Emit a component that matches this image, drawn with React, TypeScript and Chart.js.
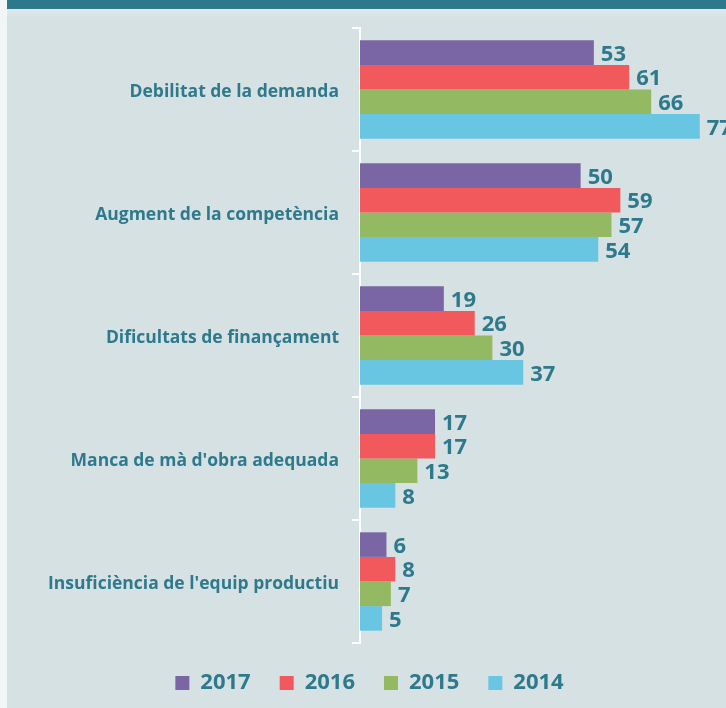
import React, { useEffect, useRef } from "react";
import { Chart, registerables } from "chart.js";

Chart.register(...registerables);

const categories = [
  "Debilitat de la demanda",
  "Augment de la competència",
  "Dificultats de finançament",
  "Manca de mà d'obra adequada",
  "Insuficiència de l'equip productiu",
];
const seriesLabels = ["2017", "2016", "2015", "2014"];
const values2017 = [53, 50, 19, 17, 6];
const values2016 = [61, 59, 26, 17, 8];
const values2015 = [66, 57, 30, 13, 7];
const values2014 = [77, 54, 37, 8, 5];
const seriesColors = ["#7b66a5", "#f1595c", "#93ba62", "#68c6e3"];

const TEAL = "#2e7a8c";
const FONT = "'Open Sans', sans-serif";

const valueLabels = {
  id: "valueLabels",
  afterDatasetsDraw(chart: any) {
    const ctx = chart.ctx;
    ctx.save();
    ctx.fillStyle = TEAL;
    ctx.font = `bold 22px ${FONT}`;
    ctx.textAlign = "left";
    ctx.textBaseline = "middle";
    chart.data.datasets.forEach((ds: any, di: number) => {
      const meta = chart.getDatasetMeta(di);
      meta.data.forEach((el: any, i: number) => {
        ctx.fillText(String(ds.data[i]), el.x + 7, el.y + 2);
      });
    });
    ctx.restore();
  },
};

export default function App() {
  const ref = useRef<HTMLCanvasElement>(null);
  useEffect(() => {
    const allValues = [values2017, values2016, values2015, values2014];
    const chart = new Chart(ref.current!, {
      type: "bar",
      data: {
        labels: categories,
        datasets: seriesLabels.map((l, i) => ({
          label: l,
          data: allValues[i],
          backgroundColor: seriesColors[i],
          borderWidth: 0,
          categoryPercentage: 0.8,
          barPercentage: 1.0,
        })),
      },
      options: {
        indexAxis: "y",
        responsive: false,
        animation: false,
        devicePixelRatio: 1,
        layout: { padding: { top: 28, right: 13, left: 26, bottom: 4 } },
        plugins: {
          tooltip: { enabled: false },
          legend: {
            position: "bottom",
            labels: {
              boxWidth: 14,
              boxHeight: 14,
              padding: 29,
              color: TEAL,
              font: { family: FONT, size: 22, weight: "bold" },
            },
          },
        },
        scales: {
          x: { display: false, min: 0, max: 80 },
          y: {
            grid: {
              display: true,
              drawOnChartArea: false,
              drawTicks: true,
              tickLength: 8,
              color: "#ffffff",
              lineWidth: 2,
              offset: true,
            },
            border: { display: true, color: "#ffffff", width: 2 },
            ticks: {
              color: TEAL,
              padding: 13,
              labelOffset: 3,
              font: { family: FONT, size: 17.5, weight: "bold" },
            },
            afterFit: (s: any) => {
              s.width = 334;
            },
          },
        },
      },
      plugins: [valueLabels],
    } as any);
    return () => chart.destroy();
  }, []);

  return (
    <div
      style={{
        position: "absolute",
        left: 0,
        top: 0,
        width: 726,
        height: 708,
        background: "#f2f6f6",
        overflow: "hidden",
      }}
    >
      <div
        style={{
          position: "absolute",
          left: 7,
          top: 0,
          width: 719,
          height: 708,
          background: "#d6e1e4",
        }}
      />
      <div
        style={{
          position: "absolute",
          left: 7,
          top: 9,
          width: 719,
          height: 10,
          background: "linear-gradient(#dde9ea, #d6e1e4)",
        }}
      />
      <div
        style={{
          position: "absolute",
          left: 7,
          top: 0,
          width: 719,
          height: 9,
          background: "#2e788b",
        }}
      />
      <canvas
        ref={ref}
        width={726}
        height={708}
        style={{ position: "absolute", left: 0, top: 0, width: 726, height: 708 }}
      />
    </div>
  );
}
